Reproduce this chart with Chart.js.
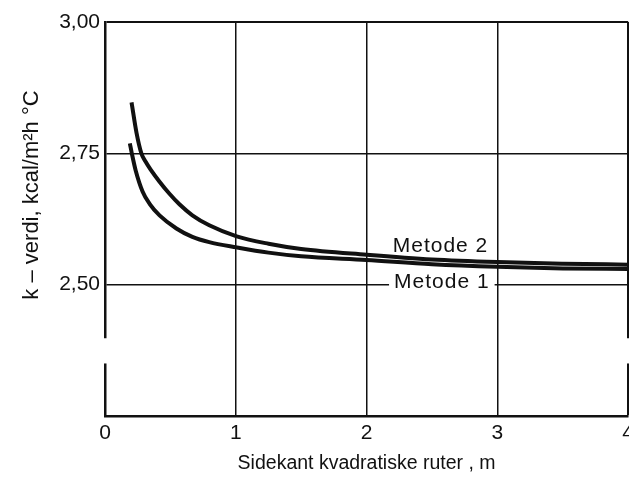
<!DOCTYPE html>
<html>
<head>
<meta charset="utf-8">
<script src="https://cdn.jsdelivr.net/npm/chart.js@4"></script>
<style>
  html, body { margin: 0; padding: 0; background: #fff; overflow: hidden; }
  #wrap { position: relative; width: 639px; height: 483px; }
</style>
</head>
<body>
<div id="wrap"><canvas id="myChart"></canvas></div>
<script>
// values
const xMetode1 = [0.19, 0.205, 0.235, 0.288, 0.341, 0.417, 0.546, 0.668, 0.797, 1.007, 1.25, 1.5, 2.0, 2.5, 3.0, 3.5, 4.0];
const yMetode1 = [2.769, 2.75, 2.717, 2.677, 2.654, 2.632, 2.607, 2.591, 2.581, 2.571, 2.561, 2.554, 2.547, 2.539, 2.534, 2.531, 2.530];
const xMetode2 = [0.203, 0.241, 0.278, 0.311, 0.349, 0.417, 0.493, 0.569, 0.668, 0.797, 1.007, 1.25, 1.5, 2.0, 2.5, 3.0, 3.5, 4.0];
const yMetode2 = [2.847, 2.789, 2.75, 2.734, 2.719, 2.696, 2.673, 2.653, 2.632, 2.613, 2.592, 2.578, 2.568, 2.557, 2.548, 2.543, 2.540, 2.538];
const xTicks = [0, 1, 2, 3, 4];
const yTicks = [2.25, 2.50, 2.75, 3.00];
const seriesNames = ['Metode 1', 'Metode 2'];
const yTitle = 'k – verdi, kcal/m²h °C';

const FONT = '"Liberation Sans", Arial, sans-serif';

const toPoints = (xs, ys) => xs.map((x, i) => ({ x: x, y: ys[i] }));

const data = {
    datasets: [
        {
            label: seriesNames[0],
            data: toPoints(xMetode1, yMetode1),
            borderColor: '#111',
            borderWidth: 4,
            pointRadius: 0,
            cubicInterpolationMode: 'monotone',
        },
        {
            label: seriesNames[1],
            data: toPoints(xMetode2, yMetode2),
            borderColor: '#111',
            borderWidth: 4,
            pointRadius: 0,
            cubicInterpolationMode: 'monotone',
        },
    ]
};

// curve labels, gaps in the frame, y title (sits above centre in the original)
const extras = {
    id: 'extras',
    afterDatasetsDraw(chart) {
        const ctx = chart.ctx;
        const xs = chart.scales.x, ys = chart.scales.y;
        const area = chart.chartArea;
        ctx.save();
        ctx.fillStyle = '#fff';
        const g1 = ys.getPixelForValue(2.398), g2 = ys.getPixelForValue(2.35);
        ctx.fillRect(area.left - 3, g1, 6, g2 - g1);
        ctx.fillRect(area.right - 3, g1, 6, g2 - g1);

        ctx.font = '21px ' + FONT;
        ctx.letterSpacing = '1px';
        ctx.textBaseline = 'middle';
        ctx.textAlign = 'left';
        const x1 = xs.getPixelForValue(2.21), y1 = ys.getPixelForValue(2.50);
        const w1 = ctx.measureText(seriesNames[0]).width;
        ctx.fillRect(x1 - 5, y1 - 4, w1 + 10, 8);
        ctx.fillStyle = '#111';
        ctx.fillText(seriesNames[0], x1, y1 - 2);
        ctx.fillText(seriesNames[1], xs.getPixelForValue(2.2), ys.getPixelForValue(2.574));

        ctx.letterSpacing = '0px';
        ctx.font = '22px ' + FONT;
        ctx.textAlign = 'center';
        ctx.translate(32, 195);
        ctx.rotate(-Math.PI / 2);
        ctx.fillText(yTitle, 0, 0);
        ctx.restore();
    }
};

const config = {
    type: 'line',
    data: data,
    plugins: [extras],
    options: {
        responsive: true,
        maintainAspectRatio: false,
        animation: false,
        layout: { padding: { top: 22, left: 0, right: 0, bottom: 0 } },
        plugins: {
            legend: { display: false },
            tooltip: { enabled: false },
        },
        scales: {
            x: {
                type: 'linear',
                min: 0,
                max: 4,
                afterBuildTicks: (scale) => { scale.ticks = xTicks.map(v => ({ value: v })); },
                afterFit: (scale) => { scale.height = 67; },
                ticks: {
                    color: '#111',
                    padding: 5,
                    font: { family: FONT, size: 21 },
                    maxRotation: 0,
                },
                grid: {
                    color: '#111',
                    lineWidth: (c) => (c.tick && c.tick.value === 4 ? 2 : 1.5),
                    drawTicks: false,
                },
                border: { color: '#111', width: 2.5 },
                title: {
                    display: true,
                    text: 'Sidekant kvadratiske ruter , m',
                    color: '#111',
                    font: { family: FONT, size: 19.5 },
                    padding: { top: 0, bottom: 8 },
                },
            },
            y: {
                min: 2.25,
                max: 3.0,
                afterBuildTicks: (scale) => { scale.ticks = yTicks.map(v => ({ value: v })); },
                afterFit: (scale) => { scale.width = 105; },
                ticks: {
                    color: '#111',
                    padding: 5,
                    font: { family: FONT, size: 21 },
                    callback: (v) => (v === 2.25 ? '' : v.toFixed(2).replace('.', ',')),
                },
                grid: {
                    color: '#111',
                    lineWidth: (c) => (c.tick && c.tick.value === 3 ? 2 : 1.5),
                    drawTicks: false,
                },
                border: { color: '#111', width: 2.5 },
            }
        }
    },
};

const myChart = new Chart(document.getElementById('myChart'), config);
</script>
</body>
</html>
